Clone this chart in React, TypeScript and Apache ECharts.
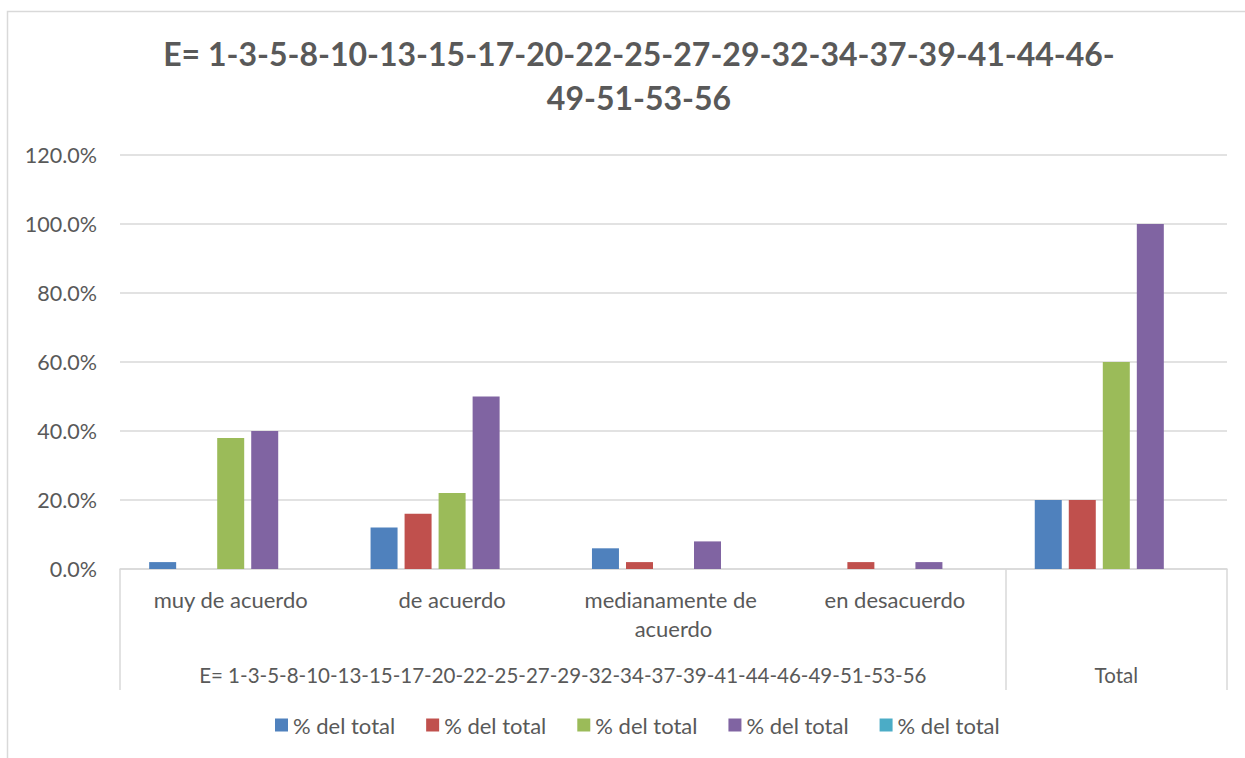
import React, { useEffect, useRef } from "react";
import * as echarts from "echarts";

const categories = ["muy de acuerdo", "de acuerdo", "medianamente de acuerdo", "en desacuerdo", "Total"];
const groupLabels = ["E= 1-3-5-8-10-13-15-17-20-22-25-27-29-32-34-37-39-41-44-46-49-51-53-56", "Total"];
const seriesNames = ["% del total", "% del total", "% del total", "% del total", "% del total"];
const series1 = [2, 12, 6, 0, 20];
const series2 = [0, 16, 2, 2, 20];
const series3 = [38, 22, 0, 0, 60];
const series4 = [40, 50, 8, 2, 100];
const series5 = [0, 0, 0, 0, 0];
const yTicks = [0, 20, 40, 60, 80, 100, 120];
const titleText = "E= 1-3-5-8-10-13-15-17-20-22-25-27-29-32-34-37-39-41-44-46-\n49-51-53-56";

const colors = ["#4f81bd", "#c0504d", "#9bbb59", "#8064a2", "#4bacc6"];
const FONT = "Lato, 'Open Sans', sans-serif";
const TEXT = "#595959";
const LINE = "#d9d9d9";

export default function App() {
  const ref = useRef<HTMLDivElement>(null);
  useEffect(() => {
    if (!ref.current) return;
    const chart = echarts.init(ref.current, null, { renderer: "svg" });
    const data = [series1, series2, series3, series4, series5];
    chart.setOption({
      animation: false,
      color: colors,
      textStyle: { fontFamily: FONT },
      title: {
        text: titleText,
        left: 634,
        textAlign: "center",
        top: 26,
        textStyle: { fontFamily: FONT, fontSize: 32, fontWeight: "bold", color: TEXT, lineHeight: 44 },
      },
      graphic: [
        {
          type: "rect",
          shape: { x: 7.5, y: 11.5, width: 1300, height: 800 },
          style: { fill: "none", stroke: LINE, lineWidth: 1.5 },
          silent: true,
        },
      ],
      legend: {
        bottom: 17,
        left: 270,
        itemWidth: 13,
        itemHeight: 13,
        itemGap: 31,
        icon: "rect",
        textStyle: { fontFamily: FONT, fontSize: 22, color: TEXT },
        data: seriesNames.map((n, i) => ({ name: n + "\u200b".repeat(i) })),
      },
      grid: { left: 120, right: 18, top: 155, bottom: 189, containLabel: false },
      xAxis: [
        {
          type: "category",
          data: categories.slice(0, 4).concat([""]),
          axisLine: { lineStyle: { color: LINE, width: 1.5 } },
          axisTick: { show: false },
          axisLabel: {
            interval: 0,
            color: TEXT,
            fontFamily: FONT,
            fontSize: 22,
            lineHeight: 29,
            margin: 16,
            width: 200,
            overflow: "break",
          },
        },
        {
          type: "value",
          min: 0,
          max: 5,
          position: "bottom",
          axisLine: { show: false },
          splitLine: { show: false },
          axisTick: { show: true, customValues: [0, 4, 5], length: 121, lineStyle: { color: LINE, width: 1.5 } },
          axisLabel: {
            customValues: [2, 4.5],
            formatter: (v: number) => (v === 2 ? groupLabels[0] : v === 4.5 ? groupLabels[1] : ""),
            color: TEXT,
            fontFamily: FONT,
            fontSize: 20.5,
            margin: 95,
          },
        },
      ],
      yAxis: {
        type: "value",
        min: yTicks[0],
        max: yTicks[yTicks.length - 1],
        interval: 20,
        axisLine: { show: false },
        axisTick: { show: false },
        splitLine: { lineStyle: { color: LINE, width: 1.5 } },
        axisLabel: {
          color: TEXT,
          fontFamily: FONT,
          fontSize: 21.5,
          margin: 23,
          formatter: (v: number) => v.toFixed(1) + "%",
        },
      },
      series: data.map((d, i) => ({
        type: "bar",
        name: seriesNames[i] + "\u200b".repeat(i),
        xAxisIndex: 0,
        data: d,
        barWidth: 27,
        barGap: "26%",
        itemStyle: { color: colors[i] },
      })),
    });
    return () => chart.dispose();
  }, []);
  return <div ref={ref} style={{ position: "absolute", left: 0, top: 0, width: 1245, height: 758 }} />;
}
